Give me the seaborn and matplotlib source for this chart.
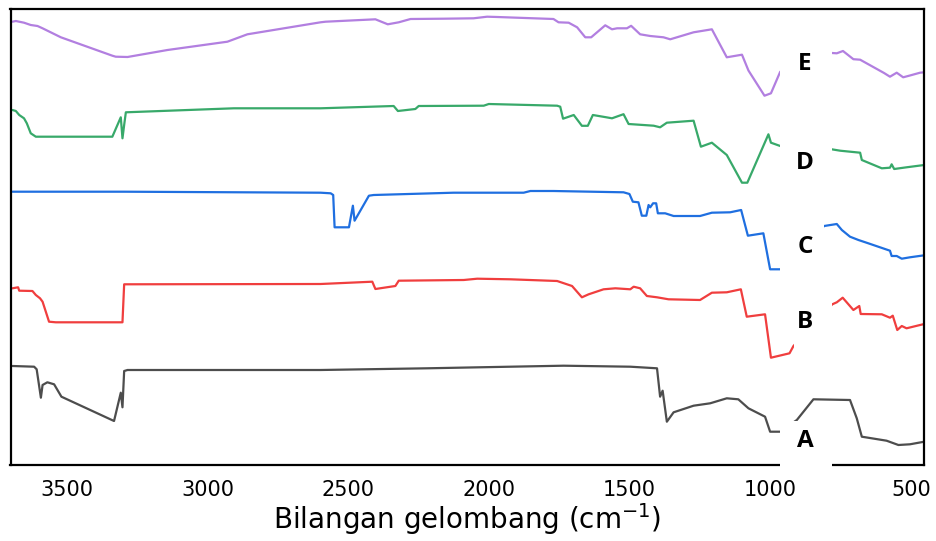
import matplotlib
matplotlib.use("Agg")
import matplotlib.pyplot as plt
from matplotlib.patches import Rectangle
import seaborn as sns
import pandas as pd

# ---- data (wavenumber cm^-1, relative transmittance with stacking offset) ----
wn_E = [3693, 3681, 3652, 3628, 3604, 3586, 3521, 3338, 3326, 3284, 3142, 2929, 2858, 2598,
        2580, 2403, 2359, 2320, 2278, 2160, 2054, 2006, 1970, 1770, 1752, 1716, 1686, 1657,
        1636, 1586, 1562, 1544, 1509, 1494, 1462, 1426, 1379, 1355, 1272, 1207, 1154, 1100,
        1077, 1020, 997, 964, 780, 763, 741, 704, 680, 595, 574, 550, 527, 503, 467, 452]
t_E = [443.3, 444, 442.3, 440, 439, 436.7, 427.7, 409.3, 408.3, 408, 415, 423.3, 430.7, 442.7,
       443.3, 445.7, 440.7, 442.7, 446, 446.3, 446.7, 448.3, 448, 446, 442.7, 442.3, 437.7, 427.7,
       427.7, 439.7, 435.7, 436.7, 436.7, 439.2, 430.7, 429, 427.7, 425.7, 432.7, 435.7, 407.7, 410.3,
       394.5, 369.3, 371.7, 393.3, 412, 411.7, 414, 405.8, 405.3, 392, 388.3, 392.3, 387.7, 389.5, 392.3, 392.7]

wn_D = [3693, 3681, 3669, 3652, 3642, 3628, 3610, 3338, 3308, 3302, 3296, 3290, 2906, 2598,
        2338, 2323, 2261, 2249, 2018, 2000, 1757, 1746, 1736, 1698, 1669, 1648, 1630, 1582,
        1562, 1521, 1503, 1414, 1391, 1367, 1272, 1246, 1207, 1154, 1100, 1081, 1006, 997, 964,
        781, 751, 680, 674, 603, 574, 568, 559, 515, 452]
t_D = [355, 354, 350, 346.7, 341.7, 331.7, 328.3, 328.3, 347.7, 326.7, 340, 352.7, 356.7, 356.7,
       359, 354, 356, 359, 359.3, 361, 359.3, 358.3, 346.3, 350, 339.2, 339.2, 350, 347.7,
       346.7, 350.8, 341, 339.3, 337.7, 342.3, 344.3, 318.3, 322.3, 310, 282.3, 282.3, 330.7, 322.3, 319,
       315.7, 314.3, 312.3, 305, 296.7, 297.3, 300.7, 296, 297.7, 300]

wn_C = [3693, 3297, 2598, 2562, 2553, 2548, 2497, 2483, 2477, 2426, 2409, 2125, 1876, 1852,
        1770, 1521, 1500, 1488, 1468, 1456, 1440, 1432, 1426, 1416, 1405, 1399, 1373, 1343,
        1249, 1207, 1142, 1103, 1079, 1024, 1000, 964, 808, 763, 745, 716, 686, 651, 574, 568,
        550, 532, 503, 452]
t_C = [273.3, 273.3, 272.3, 271.7, 270, 237.7, 237.7, 259.3, 244.3, 269.3, 270, 272.3, 272.3, 274,
       274, 272.7, 271, 263.3, 262.7, 249.3, 249.3, 260, 257.7, 261.7, 261.7, 251.7, 251.7, 249,
       249, 252.3, 252.7, 255, 229.3, 231.7, 195.7, 195.7, 239, 241, 235, 228.3, 225, 221.7, 214.3, 209,
       209, 206.3, 207.7, 209.7]

wn_B = [3693, 3681, 3673, 3669, 3622, 3610, 3595, 3586, 3563, 3539, 3302, 3296, 2598, 2414,
        2403, 2332, 2320, 2089, 2041, 1923, 1757, 1704, 1669, 1645, 1592, 1550, 1497, 1485,
        1462, 1438, 1402, 1361, 1249, 1207, 1154, 1104, 1083, 1018, 997, 931, 917,
        779, 763, 742, 704, 683, 678, 603, 574, 564, 548, 532, 515, 467, 452]
t_B = [176.7, 177.3, 177.7, 174.3, 174, 170, 166.7, 163.3, 143.3, 142.7, 142.7, 180.7, 181, 183.3,
       176, 179, 184.3, 185, 186.3, 185.7, 184, 179, 167.7, 170.7, 175.7, 176.7, 175.7, 178.3,
       176.7, 169, 167.7, 165.7, 165, 172.3, 172.7, 175.7, 148.3, 150.7, 107.3, 111.7, 119,
       160.7, 162.7, 167.3, 155, 159, 151, 150.7, 147.3, 149.3, 135, 139, 136.7, 140, 141]

wn_A = [3693, 3616, 3607, 3592, 3586, 3569, 3545, 3519, 3332, 3308, 3302, 3296, 3284, 2598,
        2219, 1923, 1734, 1497, 1402, 1391, 1382, 1367, 1343, 1272, 1213, 1154, 1113, 1077,
        1018, 1000, 964, 905, 846, 716, 692, 674, 586, 544, 503, 452]
t_A = [99, 98.3, 95.7, 67.3, 80, 82.7, 80.7, 68.3, 44, 72.3, 57.7, 94, 95, 95,
       96.7, 98.3, 99.3, 98.3, 96.7, 68.3, 74.3, 43.3, 52.7, 59.3, 61.7, 66.7, 65.7, 56.7,
       48.3, 33.3, 33.3, 45, 65.7, 65, 46.7, 28.3, 24.3, 20, 20.7, 23.3]

samples = ["A", "B", "C", "D", "E"]
colors = {"A": "#4d4d4d", "B": "#f03e3e", "C": "#1f6fe0", "D": "#38a96a", "E": "#b27fe0"}
series = {"A": (wn_A, t_A), "B": (wn_B, t_B), "C": (wn_C, t_C), "D": (wn_D, t_D), "E": (wn_E, t_E)}
label_y = {"A": 24, "B": 143, "C": 218, "D": 302, "E": 401}
x_ticks = [3500, 3000, 2500, 2000, 1500, 1000, 500]

sns.set_theme(style="white")
plt.rcParams["font.family"] = ["DejaVu Sans"]
plt.rcParams["mathtext.fontset"] = "dejavusans"

fig = plt.figure(figsize=(9.36, 5.41), dpi=100)
ax = fig.add_axes([10.5 / 936, 1 - 465 / 541, 913.5 / 936, 456 / 541])

for s in samples:
    wn, t = series[s]
    df = pd.DataFrame({"wn": wn, "t": t})
    sns.lineplot(data=df, x="wn", y="t", ax=ax, color=colors[s], linewidth=1.6,
                 estimator=None, sort=False, zorder=2)

# white label boxes hiding the traces behind the letters
boxes = [
    (780, 965, 365, 425),   # E
    (780, 965, 275, 330),   # D
    (808, 965, 185, 250),   # C
    (780, 916, 100, 170),   # B
    (780, 965, -8, 44),     # A
]
for x0, x1, y0, y1 in boxes:
    ax.add_patch(Rectangle((x0, y0), x1 - x0, y1 - y0, facecolor="white",
                           edgecolor="none", zorder=3, clip_on=False))

for s in samples:
    ax.text(876, label_y[s], s, ha="center", va="center", fontsize=17.5,
            fontweight="bold", family=["Open Sans", "DejaVu Sans"], color="black", zorder=4)

ax.set_xlim(3700, 453)
ax.set_ylim(0, 456)
ax.set_xticks(x_ticks)
ax.set_xticklabels([str(v) for v in x_ticks])
ax.set_yticks([])
ax.tick_params(axis="x", length=0, pad=10.5, labelsize=15, labelcolor="black")
ax.set_ylabel("")
ax.set_xlabel(r"Bilangan gelombang (cm$^{-1}$)", fontsize=20, color="black", labelpad=1)
for sp in ax.spines.values():
    sp.set_visible(True)
    sp.set_color("black")
    sp.set_linewidth(1.6)
    sp.set_zorder(2.5)

fig.savefig("out.png", dpi=100)
